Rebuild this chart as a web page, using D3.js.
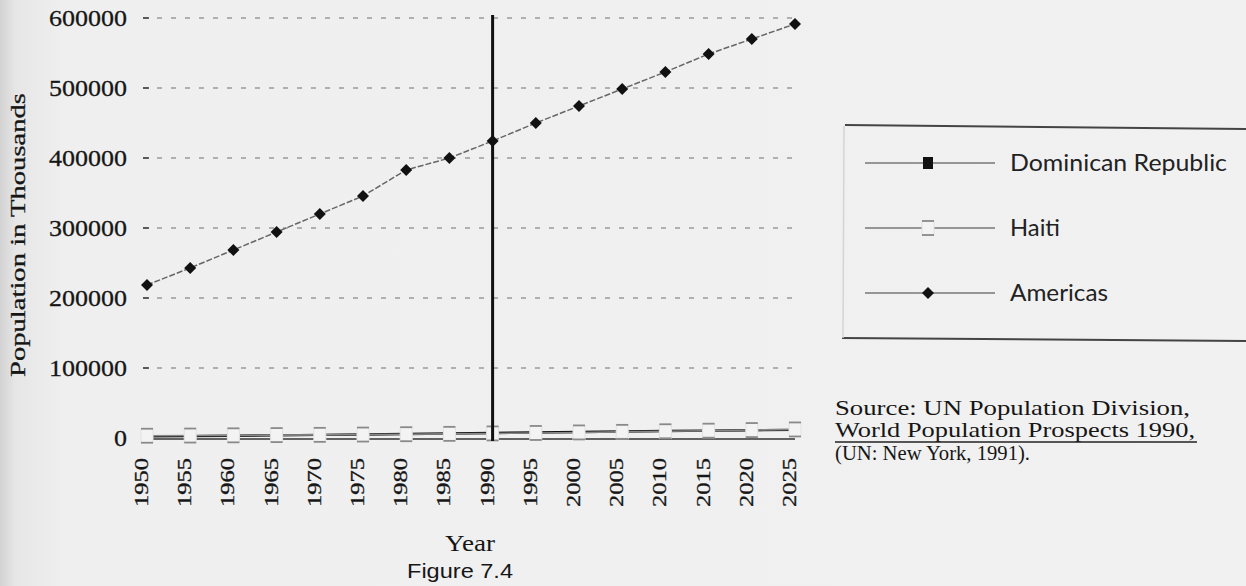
<!DOCTYPE html>
<html>
<head>
<meta charset="utf-8">
<script src="https://cdn.jsdelivr.net/npm/d3@7"></script>
<style>
  html, body { margin: 0; padding: 0; background: #efefef; }
  svg { display: block; }
</style>
</head>
<body>
<svg id="chart" width="1246" height="586"></svg>
<script>
// Population projections (thousands), UN Population Division
const years = [1950, 1955, 1960, 1965, 1970, 1975, 1980, 1985, 1990, 1995, 2000, 2005, 2010, 2015, 2020, 2025];
const americas = [218600, 242900, 268600, 294300, 320000, 345700, 382900, 400000, 424300, 450000, 474300, 498600, 522900, 548600, 570000, 591400];
const dominicanRepublic = [2353, 2737, 3231, 3805, 4423, 5048, 5697, 6416, 7170, 7915, 8621, 9291, 9925, 10520, 11080, 11580];
const haiti = [3261, 3511, 3804, 4137, 4520, 4918, 5413, 5922, 6513, 7180, 7959, 8774, 9604, 10460, 11330, 12210];
const yTicks = [0, 100000, 200000, 300000, 400000, 500000, 600000];
const seriesNames = ["Dominican Republic", "Haiti", "Americas"];
const markerYear = 1990;

const svg = d3.select("#chart");

// paper tone with a darker left margin
const defs = svg.append("defs");
const grad = defs.append("linearGradient").attr("id", "paper").attr("x1", 0).attr("x2", 1);
grad.append("stop").attr("offset", 0).attr("stop-color", "#d2d2d2");
grad.append("stop").attr("offset", 0.012).attr("stop-color", "#e6e6e6");
grad.append("stop").attr("offset", 0.05).attr("stop-color", "#efefef");
grad.append("stop").attr("offset", 1).attr("stop-color", "#f1f1f1");
svg.append("rect").attr("width", 1246).attr("height", 586).attr("fill", "url(#paper)");

const x = d3.scaleLinear().domain([1950, 2025]).range([147, 795]);
const y = d3.scaleLinear().domain([0, 600000]).range([438, 18]);

const serif = "'Liberation Serif', 'Times New Roman', serif";
const ink = "#161616";

// horizontal dotted gridlines
const grid = svg.append("g");
yTicks.filter(t => t > 0).forEach(t => {
  grid.append("line")
    .attr("x1", 143).attr("x2", x(2025))
    .attr("y1", y(t)).attr("y2", y(t))
    .attr("stroke", "#9a9a9a").attr("stroke-width", 1.6)
    .attr("stroke-dasharray", "5,9");
  grid.append("line")
    .attr("x1", 143).attr("x2", 149)
    .attr("y1", y(t)).attr("y2", y(t))
    .attr("stroke", "#444").attr("stroke-width", 1.6);
});

// y tick labels
svg.append("g").selectAll("text").data(yTicks).join("text")
  .attr("x", 127).attr("y", d => y(d) + 8)
  .attr("text-anchor", "end")
  .attr("font-family", serif).attr("font-size", 24).attr("fill", ink)
  .attr("stroke", ink).attr("stroke-width", 0.3)
  .attr("textLength", d => String(d).length * 13)
  .attr("lengthAdjust", "spacingAndGlyphs")
  .text(d => d);

// x tick labels, rotated
svg.append("g").selectAll("text").data(years).join("text")
  .attr("transform", d => `translate(${x(d) + 1},507) rotate(-90)`)
  .attr("text-anchor", "start")
  .attr("font-family", serif).attr("font-size", 18).attr("fill", ink)
  .attr("stroke", ink).attr("stroke-width", 0.3)
  .attr("textLength", 49).attr("lengthAdjust", "spacingAndGlyphs")
  .text(d => d);

// axis titles
svg.append("text")
  .attr("transform", "translate(25,235) rotate(-90)")
  .attr("text-anchor", "middle")
  .attr("font-family", serif).attr("font-size", 21).attr("fill", ink)
  .attr("stroke", ink).attr("stroke-width", 0.3)
  .attr("textLength", 284).attr("lengthAdjust", "spacingAndGlyphs")
  .text("Population in Thousands");

svg.append("text")
  .attr("x", 470).attr("y", 551).attr("text-anchor", "middle")
  .attr("font-family", serif).attr("font-size", 23).attr("fill", ink)
  .attr("textLength", 50).attr("lengthAdjust", "spacingAndGlyphs")
  .text("Year");

svg.append("text")
  .attr("x", 460).attr("y", 578).attr("text-anchor", "middle")
  .attr("font-family", "'Liberation Sans', Arial, sans-serif").attr("font-size", 21).attr("fill", ink)
  .attr("textLength", 106).attr("lengthAdjust", "spacingAndGlyphs")
  .text("Figure 7.4");

// baseline at zero
svg.append("line")
  .attr("x1", x(1950)).attr("x2", x(2025))
  .attr("y1", y(0) + 1).attr("y2", y(0) + 1)
  .attr("stroke", "#333").attr("stroke-width", 1.6);

const line = d3.line().x((d, i) => x(years[i])).y(d => y(d));

// Dominican Republic
svg.append("path").datum(dominicanRepublic)
  .attr("d", line).attr("fill", "none")
  .attr("stroke", "#111").attr("stroke-width", 2.4);
svg.append("g").selectAll("rect").data(dominicanRepublic).join("rect")
  .attr("x", (d, i) => x(years[i]) - 4).attr("y", d => y(d) - 4)
  .attr("width", 8).attr("height", 8).attr("fill", "#111");

// Haiti
svg.append("path").datum(haiti)
  .attr("d", line).attr("fill", "none")
  .attr("stroke", "#888").attr("stroke-width", 1.6);

function haitiMarker(g, cx, cy) {
  g.append("rect").attr("x", cx - 6).attr("y", cy - 7).attr("width", 12).attr("height", 14)
    .attr("fill", "#f3f3f3").attr("stroke", "#e2e2e2").attr("stroke-width", 1);
  g.append("line").attr("x1", cx - 6).attr("x2", cx + 6).attr("y1", cy - 7).attr("y2", cy - 7)
    .attr("stroke", "#8a8a8a").attr("stroke-width", 1.8);
  g.append("line").attr("x1", cx - 6).attr("x2", cx + 6).attr("y1", cy + 7).attr("y2", cy + 7)
    .attr("stroke", "#8a8a8a").attr("stroke-width", 1.8);
}
const haitiG = svg.append("g");
haiti.forEach((d, i) => haitiMarker(haitiG, x(years[i]), y(d)));

// vertical reference line at 1990
svg.append("line")
  .attr("x1", x(markerYear)).attr("x2", x(markerYear))
  .attr("y1", y(600000) - 3).attr("y2", y(0) + 3)
  .attr("stroke", "#111").attr("stroke-width", 3);

// Americas
svg.append("path").datum(americas)
  .attr("d", line).attr("fill", "none")
  .attr("stroke", "#666").attr("stroke-width", 1.5)
  .attr("stroke-dasharray", "6,2");
const diamond = d3.symbol().type(d3.symbolSquare).size(72);
svg.append("g").selectAll("path").data(americas).join("path")
  .attr("d", diamond)
  .attr("transform", (d, i) => `translate(${x(years[i])},${y(d)}) rotate(45)`)
  .attr("fill", "#111");

// legend box
const lg = svg.append("g");
lg.append("line").attr("x1", 845).attr("y1", 125).attr("x2", 1246).attr("y2", 129)
  .attr("stroke", "#444").attr("stroke-width", 2);
lg.append("line").attr("x1", 842).attr("y1", 338).attr("x2", 1246).attr("y2", 341)
  .attr("stroke", "#444").attr("stroke-width", 2);
lg.append("line").attr("x1", 844).attr("y1", 126).attr("x2", 843).attr("y2", 338)
  .attr("stroke", "#d4d4d4").attr("stroke-width", 1.5);

const legendY = [163, 228, 293];
const legendW = [217, 50, 98];
seriesNames.forEach((name, i) => {
  const cy = legendY[i];
  lg.append("line").attr("x1", 865).attr("x2", 995).attr("y1", cy).attr("y2", cy)
    .attr("stroke", "#777").attr("stroke-width", 1.6);
  if (i === 0) {
    lg.append("rect").attr("x", 923).attr("y", cy - 6).attr("width", 10).attr("height", 12).attr("fill", "#111");
  } else if (i === 1) {
    haitiMarker(lg, 928, cy);
  } else {
    lg.append("path").attr("d", diamond).attr("transform", `translate(928,${cy}) rotate(45)`).attr("fill", "#111");
  }
  lg.append("text")
    .attr("x", 1010).attr("y", cy + 8)
    .attr("font-family", "Lato, 'Noto Sans', sans-serif").attr("font-size", 23).attr("fill", "#222")
    .attr("textLength", legendW[i]).attr("lengthAdjust", "spacingAndGlyphs")
    .text(name);
});

// source note
const src = svg.append("g").attr("font-family", serif).attr("font-size", 21).attr("fill", ink);
src.append("text").attr("x", 835).attr("y", 415)
  .attr("textLength", 355).attr("lengthAdjust", "spacingAndGlyphs")
  .text("Source: UN Population Division,");
src.append("text").attr("x", 835).attr("y", 437)
  .attr("textLength", 360).attr("lengthAdjust", "spacingAndGlyphs")
  .text("World Population Prospects 1990,");
src.append("line").attr("x1", 835).attr("x2", 1197).attr("y1", 442).attr("y2", 442)
  .attr("stroke", "#222").attr("stroke-width", 1.5);
src.append("text").attr("x", 835).attr("y", 460)
  .attr("textLength", 195).attr("lengthAdjust", "spacingAndGlyphs")
  .text("(UN: New York, 1991).");
</script>
</body>
</html>
